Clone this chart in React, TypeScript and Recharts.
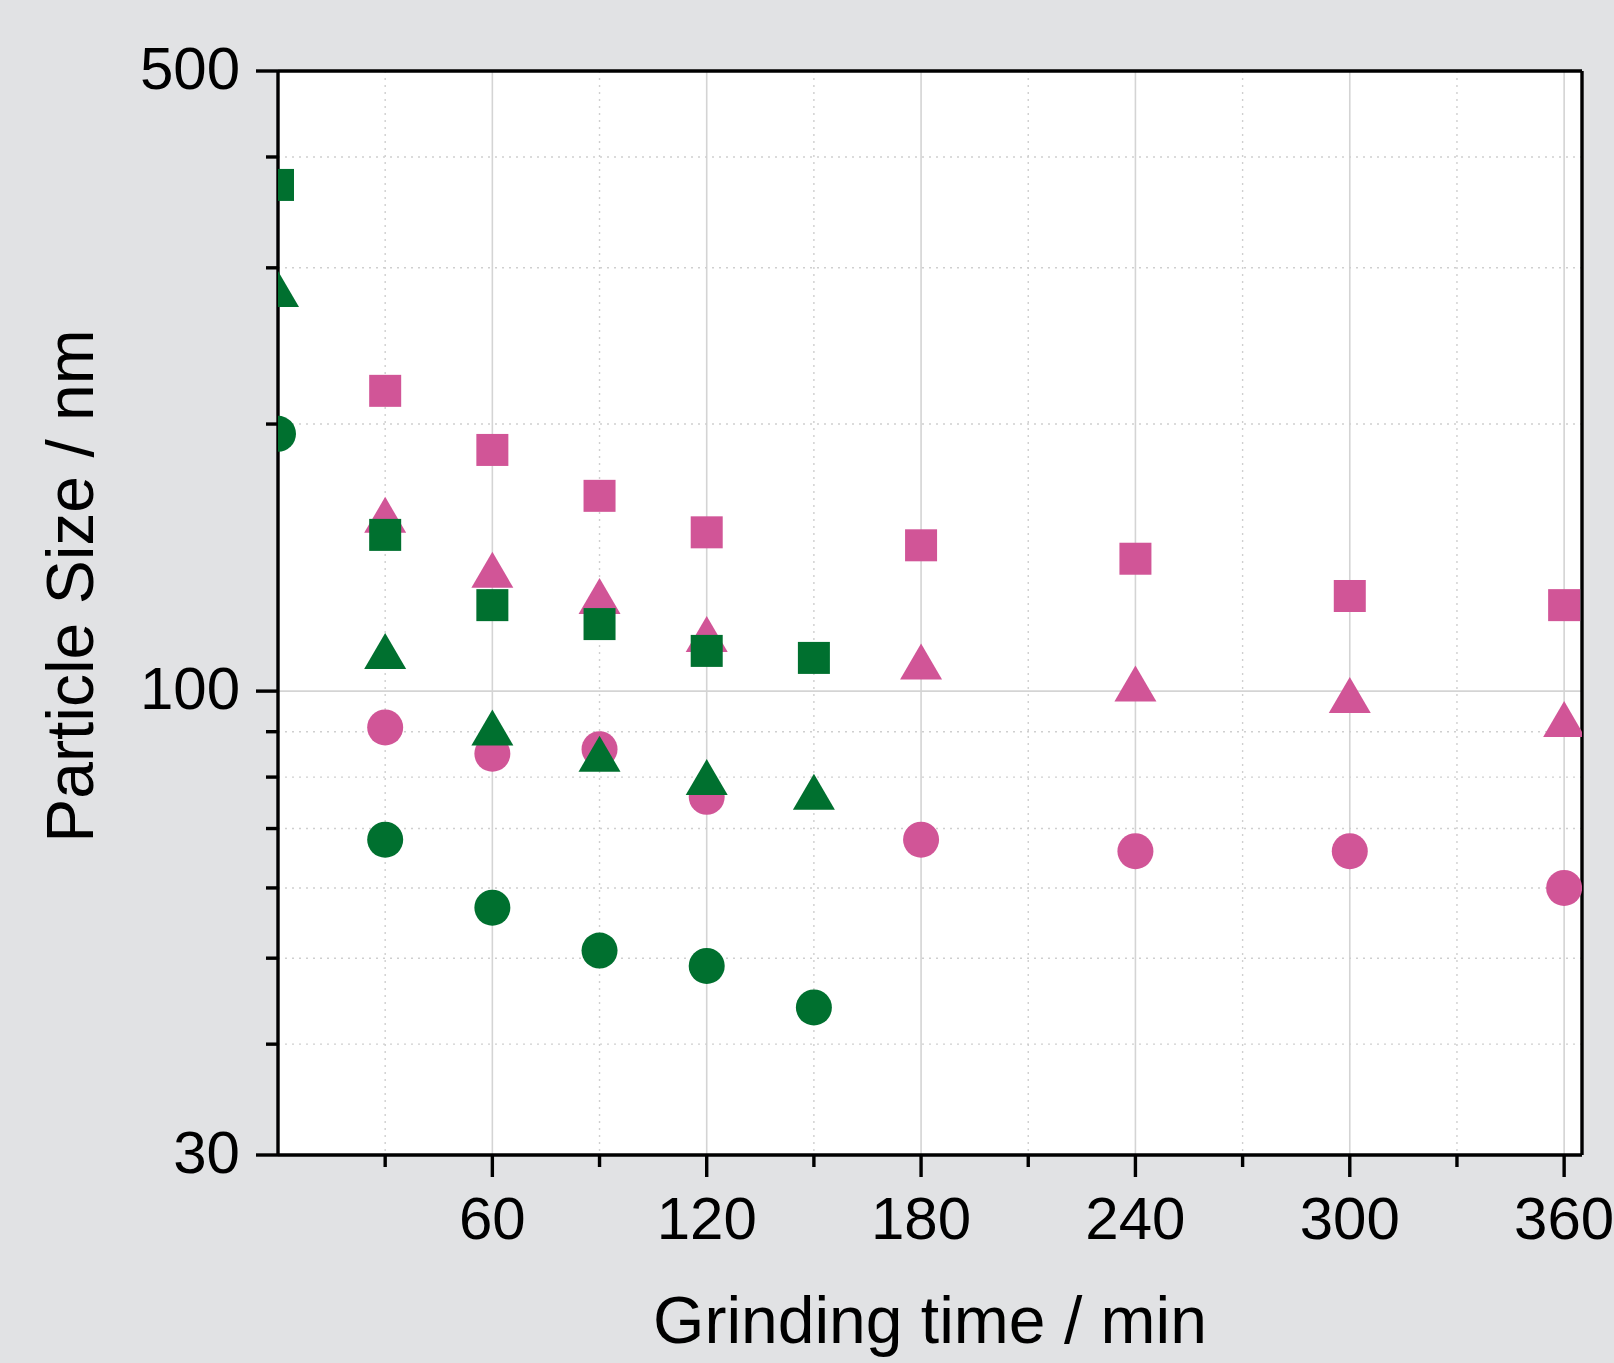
import React from 'react';
import {
  ScatterChart,
  Scatter,
  XAxis,
  YAxis,
  CartesianGrid,
  ReferenceLine,
} from 'recharts';

// grinding time (min) for each sample group
const greenTimes = [0, 30, 60, 90, 120, 150];
const pinkTimes = [30, 60, 90, 120, 180, 240, 300, 360];

// particle sizes (nm)
const greenSquare = [372, 150, 125, 119, 111, 109];
const greenTriangle = [284, 111, 91, 85, 80, 77];
const greenCircle = [195, 68, 57, 51, 49, 44];

const pinkSquare = [218, 187, 166, 151, 146, 141, 128, 125];
const pinkTriangle = [158, 137, 128, 116, 108, 102, 99, 93];
const pinkCircle = [91, 85, 86, 76, 68, 66, 66, 60];

const xTicks = [30, 60, 90, 120, 150, 180, 210, 240, 270, 300, 330, 360];
const xLabelled = [60, 120, 180, 240, 300, 360];
const yTicks = [30, 40, 50, 60, 70, 80, 90, 100, 200, 300, 400, 500];
const yLabelled = [30, 100, 500];

const xMinorGrid = [30, 90, 150, 210, 270, 330];
const xMajorGrid = [60, 120, 180, 240, 300, 360];
const yMinorGrid = [40, 50, 60, 70, 80, 90, 200, 300, 400];
const yMajorGrid = [100];

const PINK = '#d15597';
const GREEN = '#00702f';
const FONT = '"Liberation Sans", Arial, Helvetica, sans-serif';

const toPoints = (times: number[], sizes: number[]) =>
  times.map((t, i) => ({ t, size: sizes[i] }));

const Square = (color: string) => (p: any) => (
  <rect x={p.cx - 16} y={p.cy - 16} width={32} height={32} fill={color} />
);
const Circle = (color: string) => (p: any) => (
  <circle cx={p.cx} cy={p.cy} r={18} fill={color} />
);
const Triangle = (color: string) => (p: any) => (
  <polygon
    points={`${p.cx},${p.cy - 18} ${p.cx + 21},${p.cy + 18} ${p.cx - 21},${p.cy + 18}`}
    fill={color}
  />
);

const XTick = (props: any) => {
  const { x, y, payload } = props;
  const major = xLabelled.includes(payload.value);
  return (
    <g>
      <line x1={x} x2={x} y1={y} y2={y + (major ? 22 : 12)} stroke="#000" strokeWidth={3.4} />
      {major && (
        <text x={x} y={y + 84} textAnchor="middle" fontSize={60} fontFamily={FONT} fill="#000">
          {payload.value}
        </text>
      )}
    </g>
  );
};

const YTick = (props: any) => {
  const { x, y, payload } = props;
  const major = yLabelled.includes(payload.value);
  return (
    <g>
      <line x1={x} x2={x - (major ? 22 : 12)} y1={y} y2={y} stroke="#000" strokeWidth={3.4} />
      {major && (
        <text x={x - 38} y={y + 18} textAnchor="end" fontSize={60} fontFamily={FONT} fill="#000">
          {payload.value}
        </text>
      )}
    </g>
  );
};

const YTitle = (props: any) => {
  const vb = props.viewBox;
  const cx = vb.x + 93;
  const cy = vb.y + vb.height / 2 - 27;
  return (
    <text
      x={cx}
      y={cy}
      transform={`rotate(-90, ${cx}, ${cy})`}
      textAnchor="middle"
      fontSize={66}
      fontFamily={FONT}
      fill="#000"
    >
      Particle Size / nm
    </text>
  );
};

const XTitle = (props: any) => {
  const vb = props.viewBox;
  return (
    <text
      x={vb.x + vb.width / 2}
      y={vb.y + 188}
      textAnchor="middle"
      fontSize={66}
      fontFamily={FONT}
      fill="#000"
    >
      Grinding time / min
    </text>
  );
};

export default function App() {
  return (
    <div
      style={{
        position: 'absolute',
        left: 0,
        top: 0,
        width: 1614,
        height: 1363,
        background: '#e1e2e4',
      }}
    >
      <ScatterChart width={1614} height={1363} margin={{ top: 71, right: 32, bottom: 0, left: 0 }}>
        <CartesianGrid
          fill="#ffffff"
          stroke="#d4d4d4"
          strokeWidth={1.6}
          horizontalValues={yMajorGrid}
          verticalValues={xMajorGrid}
        />
        <CartesianGrid
          stroke="#cfcfcf"
          strokeWidth={1.4}
          strokeDasharray="2 5"
          horizontalValues={yMinorGrid}
          verticalValues={xMinorGrid}
        />
        <XAxis
          type="number"
          dataKey="t"
          domain={[0, 365]}
          ticks={xTicks}
          allowDataOverflow
          height={208}
          tickSize={0}
          tickMargin={0}
          tickLine={false}
          tick={<XTick />}
          axisLine={{ stroke: '#000', strokeWidth: 3.4 }}
          label={<XTitle />}
        />
        <YAxis
          type="number"
          dataKey="size"
          scale="log"
          domain={[30, 500]}
          ticks={yTicks}
          allowDataOverflow
          width={278}
          tickSize={0}
          tickMargin={0}
          tickLine={false}
          tick={<YTick />}
          axisLine={{ stroke: '#000', strokeWidth: 3.4 }}
          label={<YTitle />}
        />
        <ReferenceLine y={500} stroke="#000" strokeWidth={3.4} />
        <ReferenceLine x={365} stroke="#000" strokeWidth={3.4} />
        <Scatter data={toPoints(pinkTimes, pinkCircle)} shape={Circle(PINK)} isAnimationActive={false} />
        <Scatter data={toPoints(pinkTimes, pinkTriangle)} shape={Triangle(PINK)} isAnimationActive={false} />
        <Scatter data={toPoints(pinkTimes, pinkSquare)} shape={Square(PINK)} isAnimationActive={false} />
        <Scatter data={toPoints(greenTimes, greenCircle)} shape={Circle(GREEN)} isAnimationActive={false} />
        <Scatter data={toPoints(greenTimes, greenTriangle)} shape={Triangle(GREEN)} isAnimationActive={false} />
        <Scatter data={toPoints(greenTimes, greenSquare)} shape={Square(GREEN)} isAnimationActive={false} />
      </ScatterChart>
    </div>
  );
}
